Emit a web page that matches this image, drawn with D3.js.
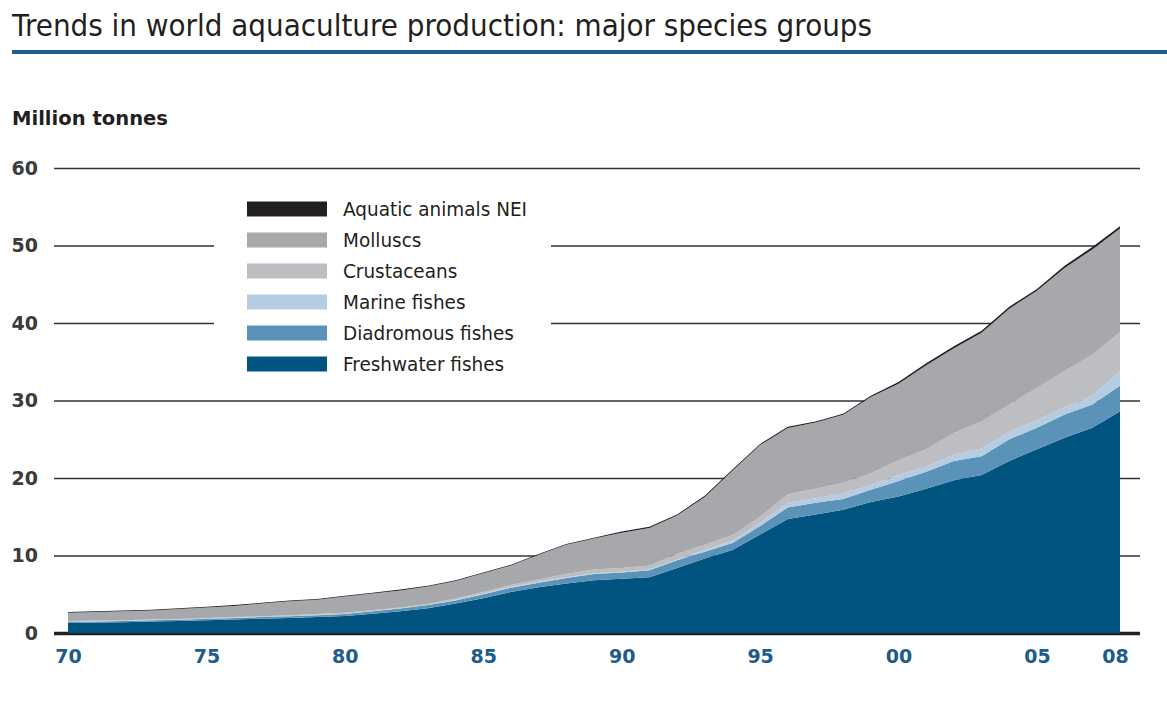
<!DOCTYPE html>
<html>
<head>
<meta charset="utf-8">
<script src="https://cdn.jsdelivr.net/npm/d3@7.9.0/dist/d3.min.js"></script>
<style>
  html, body { margin: 0; padding: 0; background: #fff; }
  svg { display: block; }
  .cond { font-family: "DejaVu Sans", "Open Sans", sans-serif; }
</style>
</head>
<body>
<svg id="chart" width="1167" height="710"></svg>
<script>
const years = d3.range(1970, 2009);
const groups = ['Freshwater fishes', 'Diadromous fishes', 'Marine fishes', 'Crustaceans', 'Molluscs', 'Aquatic animals NEI'];
const freshwater = [1.3, 1.35, 1.4, 1.5, 1.55, 1.65, 1.75, 1.85, 1.95, 2.05, 2.2, 2.5, 2.8, 3.2, 3.8, 4.5, 5.3, 5.9, 6.4, 6.8,
  7.0, 7.2, 8.4, 9.6, 10.7, 12.7, 14.7, 15.3, 15.9, 16.9, 17.6, 18.6, 19.7, 20.4, 22.2, 23.7, 25.2, 26.5, 28.6];
const diadromous = [0.15, 0.15, 0.15, 0.15, 0.15, 0.2, 0.2, 0.2, 0.2, 0.25, 0.25, 0.3, 0.35, 0.4, 0.4, 0.5, 0.55, 0.6, 0.7, 0.8,
  0.8, 0.9, 1.0, 0.9, 0.9, 1.1, 1.5, 1.5, 1.4, 1.6, 2.0, 2.2, 2.5, 2.4, 2.8, 2.8, 3.0, 3.0, 3.3];
const marine = [0.05, 0.05, 0.05, 0.05, 0.05, 0.05, 0.05, 0.05, 0.05, 0.05, 0.05, 0.05, 0.05, 0.05, 0.1, 0.1, 0.1, 0.1, 0.1, 0.1,
  0.1, 0.1, 0.1, 0.2, 0.3, 0.4, 0.6, 0.6, 0.7, 0.6, 0.8, 0.7, 0.8, 1.0, 1.0, 1.0, 0.9, 1.1, 1.9];
const crustaceans = [0.05, 0.05, 0.05, 0.05, 0.05, 0.05, 0.05, 0.05, 0.1, 0.1, 0.1, 0.1, 0.1, 0.1, 0.15, 0.2, 0.25, 0.3, 0.4, 0.5,
  0.5, 0.5, 0.7, 0.7, 0.7, 0.8, 1.1, 1.2, 1.4, 1.5, 1.9, 2.2, 2.8, 3.5, 3.5, 4.1, 4.7, 5.3, 5.0];
const molluscs = [1.05, 1.1, 1.15, 1.15, 1.3, 1.35, 1.45, 1.65, 1.8, 1.85, 2.1, 2.15, 2.2, 2.25, 2.25, 2.4, 2.5, 3.2, 3.8, 4.0,
  4.55, 4.85, 4.95, 6.15, 8.35, 9.25, 8.55, 8.55, 8.75, 9.85, 9.85, 10.85, 10.95, 11.45, 12.35, 12.55, 13.3, 13.6, 13.4];
const nei = [0.1, 0.1, 0.1, 0.1, 0.1, 0.1, 0.1, 0.1, 0.1, 0.1, 0.1, 0.1, 0.1, 0.1, 0.1, 0.1, 0.1, 0.1, 0.1, 0.1,
  0.15, 0.15, 0.15, 0.15, 0.15, 0.15, 0.15, 0.15, 0.15, 0.15, 0.25, 0.25, 0.25, 0.25, 0.25, 0.25, 0.3, 0.3, 0.3];
const yTicks = [0, 10, 20, 30, 40, 50, 60];
const xTickYears = [1970, 1975, 1980, 1985, 1990, 1995, 2000, 2005, 2008];
const xTickLabels = ['70', '75', '80', '85', '90', '95', '00', '05', '08'];

const colors = ['#00547f', '#5b93b8', '#b5cde2', '#bdbec1', '#a7a8ac', '#231f20'];

const rows = years.map((yr, i) => ({
  year: yr,
  'Freshwater fishes': freshwater[i],
  'Diadromous fishes': diadromous[i],
  'Marine fishes': marine[i],
  'Crustaceans': crustaceans[i],
  'Molluscs': molluscs[i],
  'Aquatic animals NEI': nei[i]
}));

const svg = d3.select('#chart');
svg.append('rect').attr('width', 1167).attr('height', 710).attr('fill', '#fff');

// title + rule
svg.append('text').attr('class', 'cond').attr('x', 12).attr('y', 36)
  .attr('font-size', 31).attr('fill', '#231f20')
  .attr('textLength', 860).attr('lengthAdjust', 'spacingAndGlyphs')
  .text('Trends in world aquaculture production: major species groups');
svg.append('line').attr('x1', 12).attr('x2', 1167).attr('y1', 52).attr('y2', 52)
  .attr('stroke', '#1f5f8b').attr('stroke-width', 4);

svg.append('text').attr('class', 'cond').attr('x', 12).attr('y', 125)
  .attr('font-size', 20).attr('font-weight', 'bold').attr('fill', '#231f20')
  .attr('textLength', 156).attr('lengthAdjust', 'spacingAndGlyphs')
  .text('Million tonnes');

const x = d3.scaleLinear().domain([1970, 2008]).range([68, 1120]);
const y = d3.scaleLinear().domain([0, 60]).range([633, 168]);

// y axis with gridlines
const gy = svg.append('g').attr('transform', 'translate(54,0)')
  .call(d3.axisLeft(y).tickValues(yTicks).tickSize(-(1140 - 54)).tickPadding(16));
gy.select('.domain').remove();
gy.selectAll('line').attr('stroke', '#333').attr('stroke-width', 1.6);
gy.selectAll('.tick').filter(d => d === 0).select('line').attr('stroke', '#231f20').attr('stroke-width', 3.5);
gy.selectAll('text').attr('class', 'cond').attr('font-size', 19).attr('font-weight', 'bold')
  .attr('fill', '#3b3b3b');

// stacked areas
const series = d3.stack().keys(groups)(rows);
const area = d3.area()
  .x(d => x(d.data.year))
  .y0(d => y(d[0]))
  .y1(d => y(d[1]));
svg.append('g').selectAll('path').data(series).join('path')
  .attr('d', area)
  .attr('fill', (_, i) => colors[i]);

// x axis labels
const gx = svg.append('g').attr('transform', 'translate(0,640)')
  .call(d3.axisBottom(x).tickValues(xTickYears).tickSize(0).tickPadding(10)
    .tickFormat((d, i) => xTickLabels[i]));
gx.select('.domain').remove();
gx.selectAll('text').attr('class', 'cond').attr('font-size', 19).attr('font-weight', 'bold')
  .attr('fill', '#1d5c8e');
gx.selectAll('.tick').filter(d => d === 2008).select('text').attr('dx', -5);

// legend
svg.append('rect').attr('x', 214).attr('y', 186).attr('width', 337).attr('height', 196).attr('fill', '#fff');
const legendOrder = groups.slice().reverse();
const lg = svg.append('g').selectAll('g').data(legendOrder).join('g')
  .attr('transform', (_, i) => `translate(247,${209 + i * 31})`);
lg.append('rect').attr('x', 0).attr('y', -7.5).attr('width', 80).attr('height', 15)
  .attr('fill', d => colors[groups.indexOf(d)]);
const lt = lg.append('text').attr('class', 'cond').attr('x', 96).attr('y', 6.5)
  .attr('font-size', 19).attr('fill', '#231f20').text(d => d);
// stretch legend labels a little so the longest one spans like the original
const k = 184 / lt.filter(d => d === 'Aquatic animals NEI').node().getComputedTextLength();
lt.each(function () {
  d3.select(this).attr('textLength', this.getComputedTextLength() * k).attr('lengthAdjust', 'spacingAndGlyphs');
});
</script>
</body>
</html>
